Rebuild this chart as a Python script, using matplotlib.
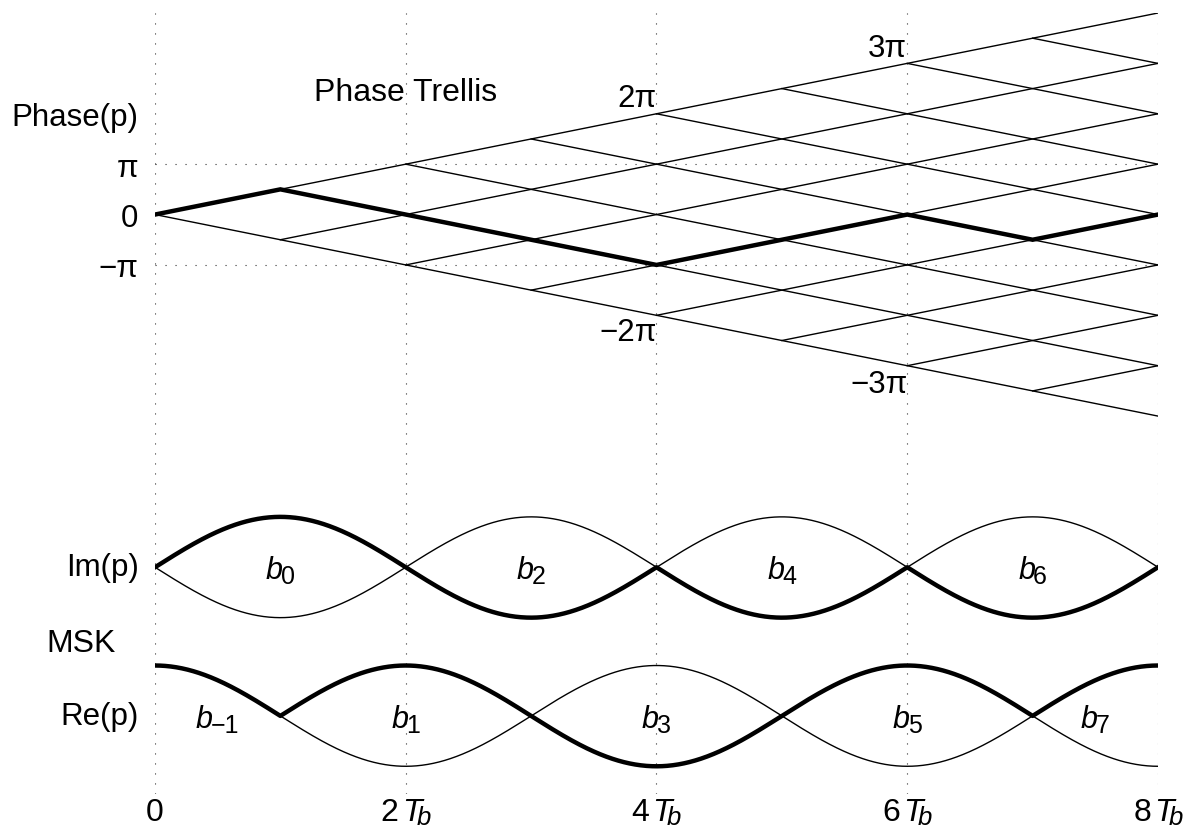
import numpy as np
import matplotlib
matplotlib.use("Agg")
import matplotlib.pyplot as plt
from matplotlib.transforms import offset_copy

plt.rcParams["font.family"] = ["Liberation Sans", "DejaVu Sans"]

# ---- data -------------------------------------------------------------
n_bits = 8                                              # bit periods shown
path_phase = [0, 0.5, 0, -0.5, -1, -0.5, 0, -0.5, 0]    # phase at t = 0..8 Tb (units of pi)
phase_ticks = [-1, 0, 1]
phase_tick_labels = ["\u2212\u03c0", "0", "\u03c0"]
time_ticks = [0, 2, 4, 6, 8]
time_tick_digits = ["0", "2", "4", "6", "8"]
phase_marks = ["2\u03c0", "3\u03c0", "\u22122\u03c0", "\u22123\u03c0"]
im_bit_index = ["0", "2", "4", "6"]
re_bit_index = ["\u22121", "1", "3", "5", "7"]

# ---- layout -----------------------------------------------------------
im_base, re_base = -7.0, -9.95       # vertical offsets of the I/Q traces
fs = 22.5
W, H = 1187, 828
fig = plt.figure(figsize=(W / 100, H / 100), dpi=100)
ax = fig.add_axes([155 / W, 1 - 795 / H, (1158 - 155) / W, (795 - 14) / H])
ax.set_xlim(0, n_bits)
ax.set_ylim(-11.5, 4.0)
for s in ax.spines.values():
    s.set_visible(False)
renderer = fig.canvas.get_renderer()


def compose(x, y, parts, coords=None):
    """Draw a row of text pieces centred on (x, y) at a common baseline.

    parts: (text, fontsize, style, gap_px_before, drop_px)
    """
    coords = coords or ax.transData
    items, widths = [], []
    for txt, size, style, gap, drop in parts:
        t = ax.text(x, y, txt, fontsize=size, fontstyle=style, ha="left",
                    va="baseline", transform=coords, clip_on=False)
        items.append((t, gap, drop))
        widths.append(t.get_window_extent(renderer).width)
    total = sum(widths) + sum(g for _, g, _ in items)
    pos = -total / 2
    for (t, gap, drop), w in zip(items, widths):
        pos += gap
        t.set_transform(offset_copy(coords, fig=fig, x=pos, y=-drop, units="dots"))
        pos += w


# trellis: from every envelope node a branch runs to the end with slope +-1/2
for n in range(n_bits):
    ax.plot([n, n_bits], [-n / 2, -n / 2 + (n_bits - n) / 2], color="black", lw=1.0)
    ax.plot([n, n_bits], [n / 2, n / 2 - (n_bits - n) / 2], color="black", lw=1.0)

# chosen phase path
t_nodes = np.arange(len(path_phase))
ax.plot(t_nodes, path_phase, color="black", lw=3.2, solid_joinstyle="miter")

# quadrature components of the phase path
t = np.linspace(0, n_bits, 1601)
phi = np.interp(t, t_nodes, path_phase)
env_s = np.sin(np.pi * t / 2)
env_c = np.cos(np.pi * t / 2)
ax.plot(t, im_base + env_s, color="black", lw=1.0)
ax.plot(t, im_base - env_s, color="black", lw=1.0)
ax.plot(t, re_base + env_c, color="black", lw=1.0)
m = t >= 1
ax.plot(t[m], re_base - env_c[m], color="black", lw=1.0)
ax.plot(t, im_base + np.sin(np.pi * phi), color="black", lw=3.2)
ax.plot(t, re_base + np.cos(np.pi * phi), color="black", lw=3.2)

# ticks and dotted grid
ax.set_xticks(time_ticks, [""] * len(time_ticks))
ax.set_yticks(phase_ticks, phase_tick_labels, fontsize=fs)
ax.tick_params(axis="both", length=0)
ax.tick_params(axis="y", pad=12)
ax.grid(True, color="0.2", lw=0.8, linestyle=(0, (1, 8)))
for g, v in zip(ax.get_ygridlines(), phase_ticks):
    if v == 0:
        g.set_visible(False)

# time axis labels: 0, 2Tb, 4Tb, ...
xlab_y = -11.5 - 26 / 50.39
for x, d in zip(time_ticks, time_tick_digits):
    if d == "0":
        compose(x, xlab_y, [(d, 23, "normal", 0, 0)])
    else:
        compose(x, xlab_y, [(d, 23, "normal", 0, 0), ("T", 23, "italic", 3, 0),
                            ("b", 18.5, "italic", -5, 4)])

# annotations
ax.text(-0.13, 1.94, "Phase(p)", fontsize=fs, ha="right", va="center")
ax.text(-0.13, im_base, "Im(p)", fontsize=fs, ha="right", va="center")
ax.text(-0.59, -8.5, "MSK", fontsize=fs + 0.5, ha="center", va="center")
ax.text(-0.13, re_base, "Re(p)", fontsize=fs, ha="right", va="center")
ax.text(2.0, 2.44, "Phase Trellis", fontsize=fs + 0.5, ha="center", va="center")

for (x, y), s in zip([(4.0, 2.32), (6.0, 3.31), (4.0, -2.34), (6.0, -3.37)], phase_marks):
    ax.text(x, y, s, fontsize=fs, ha="right", va="center")

# bit labels b_k inside each half-sinusoid
for x, k in zip([1, 3, 5, 7], im_bit_index):
    compose(x, im_base - 0.22, [("b", 22, "italic", 0, 0), (k, 18, "normal", -2, 5)])
for x, k in zip([0.5, 2, 4, 6, 7.5], re_bit_index):
    compose(x, re_base - 0.22, [("b", 22, "italic", 0, 0), (k, 18, "normal", -2, 5)])

fig.savefig("out.png", dpi=100)
